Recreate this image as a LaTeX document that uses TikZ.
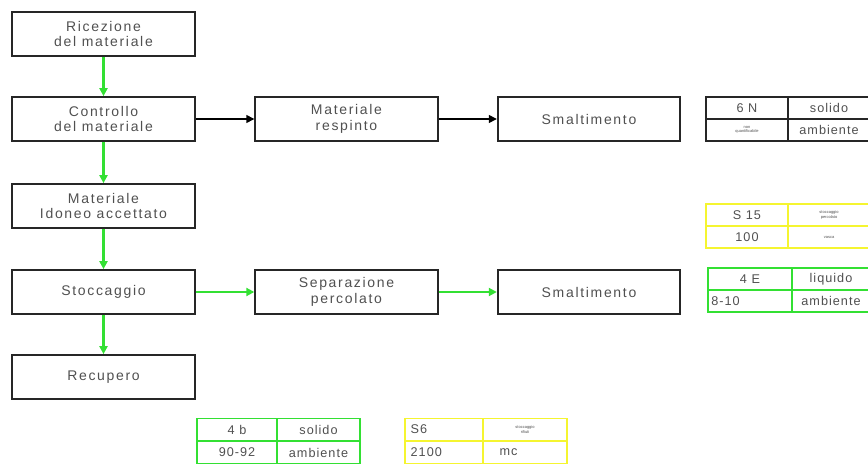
\documentclass[tikz,border=0pt]{standalone}
\usepackage{fontspec}
\setmainfont{Liberation Sans}
\newfontfamily\spaced[LetterSpace=12]{Liberation Sans}
\newfontfamily\tspaced[LetterSpace=8]{Liberation Sans}
\usetikzlibrary{arrows.meta}
\definecolor{gr}{HTML}{33E033}
\definecolor{yl}{HTML}{F5F530}
\definecolor{txt}{HTML}{505050}
\tikzset{
  box/.style={draw=black!85, line width=1.3pt, minimum width=137pt, minimum height=33pt, inner sep=0pt, align=center, text=txt, font=\spaced\fontsize{10.5}{11.5}\selectfont},
  cell/.style={draw, line width=1pt, inner sep=0pt, text=txt, font=\tspaced\fontsize{9.5}{10}\selectfont, minimum height=16.5pt, align=center},
  tiny/.style={font=\fontsize{3}{3.4}\selectfont},
  garr/.style={draw=gr, line width=1.6pt, -{Triangle[length=6pt,width=6pt]}},
  barr/.style={draw=black, line width=1.1pt, -{Triangle[length=6pt,width=6pt]}}
}
\begin{document}
\begin{tikzpicture}[x=0.75pt,y=-0.75pt]
\useasboundingbox (0,0) rectangle (868,467);
% main boxes
\node[box] (ric) at (103.5,34) {Ricezione\\del materiale};
\node[box] (con) at (103.5,119) {Controllo\\del materiale};
\node[box] (ido) at (103.5,206) {Materiale\\Idoneo accettato};
\node[box] (sto) at (103.5,292) {Stoccaggio};
\node[box] (rec) at (103.5,377) {Recupero};
\node[box] (res) at (346.5,119) {Materiale\\respinto};
\node[box] (sm1) at (589,119) {Smaltimento};
\node[box] (sep) at (346.5,292) {Separazione\\percolato};
\node[box] (sm2) at (589,292) {Smaltimento};
% arrows
\draw[garr] (ric) -- (con);
\draw[garr] (con) -- (ido);
\draw[garr] (ido) -- (sto);
\draw[garr] (sto) -- (rec);
\draw[barr] (con) -- (res);
\draw[barr] (res) -- (sm1);
\draw[garr] (sto) -- (sep);
\draw[garr] (sep) -- (sm2);
% table 6N (black)
\begin{scope}[every node/.append style={cell, draw=black!85}]
\node[minimum width=61.5pt] (a1) at (747,108) {6 N};
\node[minimum width=61.5pt] (a2) at (829,108) {solido};
\node[minimum width=61.5pt, tiny] (a3) at (747,130) {non\\quantificabile};
\node[minimum width=61.5pt] (a4) at (829,130) {ambiente};
\end{scope}
% table S15 (yellow)
\begin{scope}[every node/.append style={cell, draw=yl}]
\node[minimum width=61.5pt] (b1) at (747,215) {S 15};
\node[minimum width=61.5pt, tiny] (b2) at (829,215) {stoccaggio\\percolato};
\node[minimum width=61.5pt] (b3) at (747,237) {100};
\node[minimum width=61.5pt, tiny] (b4) at (829,237) {vasca};
\end{scope}
% table 4E (green)
\begin{scope}[every node/.append style={cell, draw=gr}]
\node[minimum width=63pt] (c1) at (750,279) {4 E};
\node[minimum width=58.5pt] (c2) at (831,279) {liquido};
\node[minimum width=63pt, text width=58pt, align=left] (c3) at (750,301) {8-10};
\node[minimum width=58.5pt] (c4) at (831,301) {ambiente};
\end{scope}
% table 4b (green)
\begin{scope}[every node/.append style={cell, draw=gr}]
\node[minimum width=60pt] (d1) at (237,429.5) {4 b};
\node[minimum width=62pt] (d2) at (318.5,429.5) {solido};
\node[minimum width=60pt] (d3) at (237,452.5) {90-92};
\node[minimum width=62pt] (d4) at (318.5,452.5) {ambiente};
\end{scope}
% table S6 (yellow)
\begin{scope}[every node/.append style={cell, draw=yl}]
\node[minimum width=58.5pt, text width=50pt, align=left] (e1) at (444,429.5) {S6};
\node[minimum width=63pt, tiny] (e2) at (525,429.5) {stoccaggio\\rifiuti};
\node[minimum width=58.5pt, text width=50pt, align=left] (e3) at (444,452.5) {2100};
\node[minimum width=63pt, text width=54pt, align=left] (e4) at (525,452.5) {\hspace*{8pt}mc};
\end{scope}
\end{tikzpicture}
\end{document}
